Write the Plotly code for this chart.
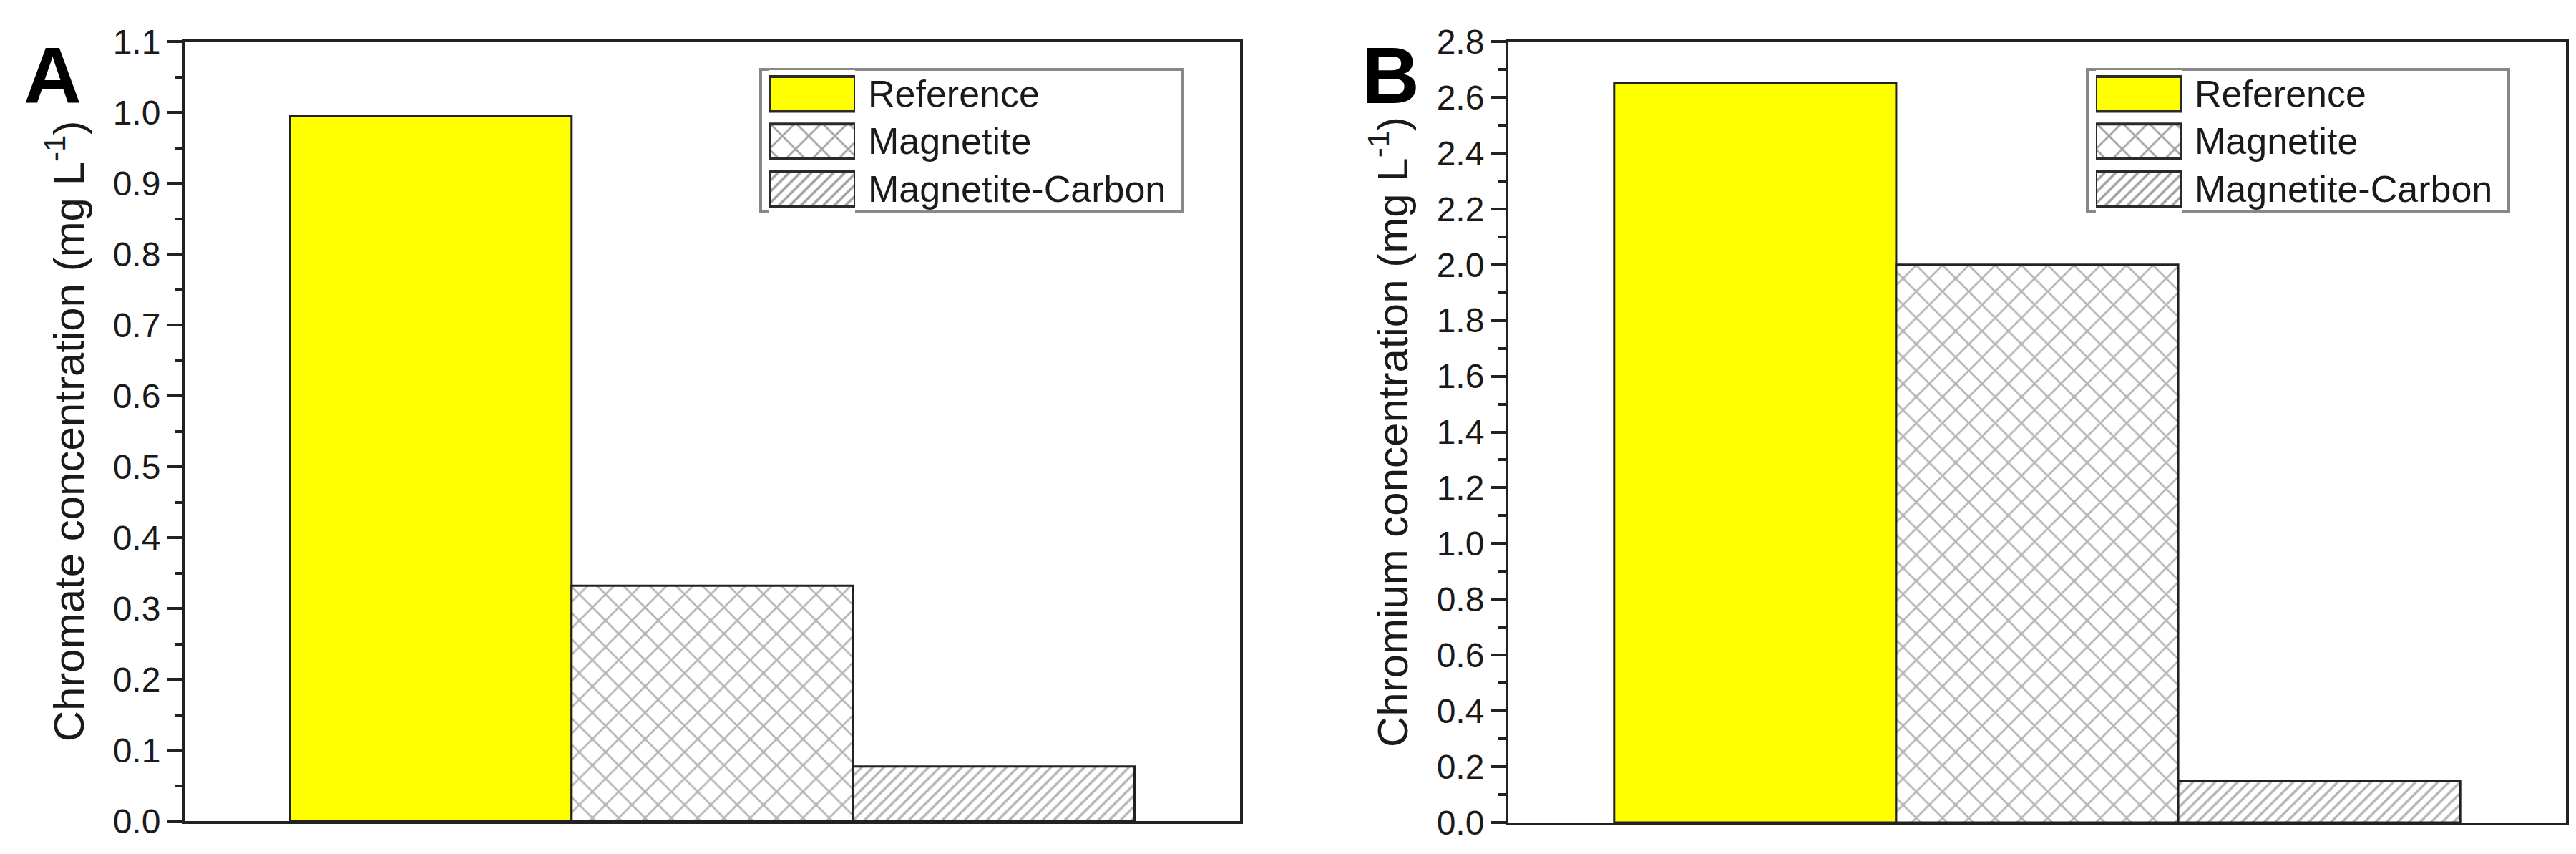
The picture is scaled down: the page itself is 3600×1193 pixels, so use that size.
import plotly.graph_objects as go

W, H = 3600, 1193

# data
series = ["Reference", "Magnetite", "Magnetite-Carbon"]
chromate = [0.995, 0.332, 0.077]   # panel A, mg/L
chromium = [2.65, 2.00, 0.15]      # panel B, mg/L
swatch_len = [1, 1, 1]             # legend swatches (drawn as bars)

# styling
fills = ["#ffff00", "white", "white"]
shapes = ["", "x", "/"]
pat_sizes = [10, 26, 11]
pat_solid = [0.2, 0.2, 0.32]
pat_fg = "#6e6e6e"
edge = "#222222"
font = "Arial, Liberation Sans, sans-serif"


def px(v):
    return v / W


def py(v):
    # pixel from top -> paper coords
    return 1 - v / H


panels = [
    dict(label="A", values=chromate, ymax=1.1, dtick=0.1,
         title="Chromate concentration (mg L<sup>-1</sup>)",
         box=(250, 1725, 50, 1139), leg=1055, labx=65),
    dict(label="B", values=chromium, ymax=2.8, dtick=0.2,
         title="Chromium concentration (mg L<sup>-1</sup>)",
         box=(2100, 3578, 50, 1141), leg=2909, labx=1935),
]

fig = go.Figure()
layout = {}
annotations = []
legend_shapes = []

for i, p in enumerate(panels):
    n_main = i + 1
    n_leg = i + 3
    xa, ya = f"x{n_main}", f"y{n_main}"
    xl, yl = f"x{n_leg}", f"y{n_leg}"
    x0, x1, y0, y1 = p["box"]

    for name, val, col, shp, sz, sol in zip(series, p["values"], fills, shapes, pat_sizes, pat_solid):
        fig.add_trace(go.Bar(
            x=[p["label"]], y=[val], name=name, showlegend=False,
            xaxis=xa, yaxis=ya,
            marker=dict(color=col, line=dict(color=edge, width=3),
                        pattern=dict(shape=shp, fgcolor=pat_fg, bgcolor=col,
                                     size=sz, solidity=sol)),
        ))

    layout[f"xaxis{n_main}"] = dict(
        domain=[px(x0), px(x1)], anchor=ya, showticklabels=False, ticks="",
        showline=True, mirror=True, linecolor=edge, linewidth=4,
        showgrid=False, range=[-0.5, 0.5], automargin=False,
    )
    layout[f"yaxis{n_main}"] = dict(
        domain=[py(y1), py(y0)], anchor=xa, range=[0, p["ymax"]],
        tick0=0, dtick=p["dtick"], tickformat=".1f",
        ticks="outside", ticklen=20, tickwidth=4, tickcolor=edge,
        minor=dict(ticks="outside", ticklen=10, tickwidth=4, tickcolor=edge,
                   dtick=p["dtick"] / 2),
        showline=True, mirror=True, linecolor=edge, linewidth=4,
        showgrid=False, zeroline=False, automargin=False,
        tickfont=dict(size=48, color="#1a1a1a", family=font),
        title=dict(text=p["title"], standoff=22,
                   font=dict(size=60, color="#1a1a1a", family=font)),
    )

    # legend drawn with a helper axis so swatches keep the bar patterns
    lx = p["leg"]
    fig.add_trace(go.Bar(
        y=series, x=swatch_len, orientation="h", width=0.73,
        xaxis=xl, yaxis=yl, showlegend=False, hoverinfo="skip", cliponaxis=False,
        marker=dict(color=fills, line=dict(color="#2a2a2a", width=4),
                    pattern=dict(shape=shapes, fgcolor=pat_fg, bgcolor=fills,
                                 size=pat_sizes, solidity=pat_solid)),
    ))
    layout[f"xaxis{n_leg}"] = dict(domain=[px(lx + 12), px(lx + 132)], anchor=yl,
                                   range=[0, 1], visible=False)
    layout[f"yaxis{n_leg}"] = dict(domain=[py(289), py(90)], anchor=xl,
                                   type="category", range=[2.5, -0.5], visible=False)
    for name in series:
        annotations.append(dict(
            x=px(lx + 148), xref="paper", y=name, yref=yl,
            xanchor="left", yanchor="middle", showarrow=False, text=name,
            font=dict(size=52, color="#1a1a1a", family=font),
        ))
    legend_shapes.append(dict(
        type="rect", xref="paper", yref="paper",
        x0=px(lx), x1=px(lx + 589), y0=py(287), y1=py(89),
        line=dict(color="#888888", width=4), fillcolor="rgba(0,0,0,0)", layer="below",
    ))

    annotations.append(dict(
        x=px(p["labx"]), y=py(98), xref="paper", yref="paper",
        xanchor="center", yanchor="middle", showarrow=False,
        text=f"<b>{p['label']}</b>", font=dict(size=112, color="black", family=font),
    ))

fig.update_layout(
    width=W, height=H,
    margin=dict(l=0, r=0, t=0, b=0),
    paper_bgcolor="white", plot_bgcolor="white",
    barmode="group", bargap=0.2, bargroupgap=0,
    annotations=annotations, shapes=legend_shapes,
    **layout,
)

fig.write_html("out.html")
